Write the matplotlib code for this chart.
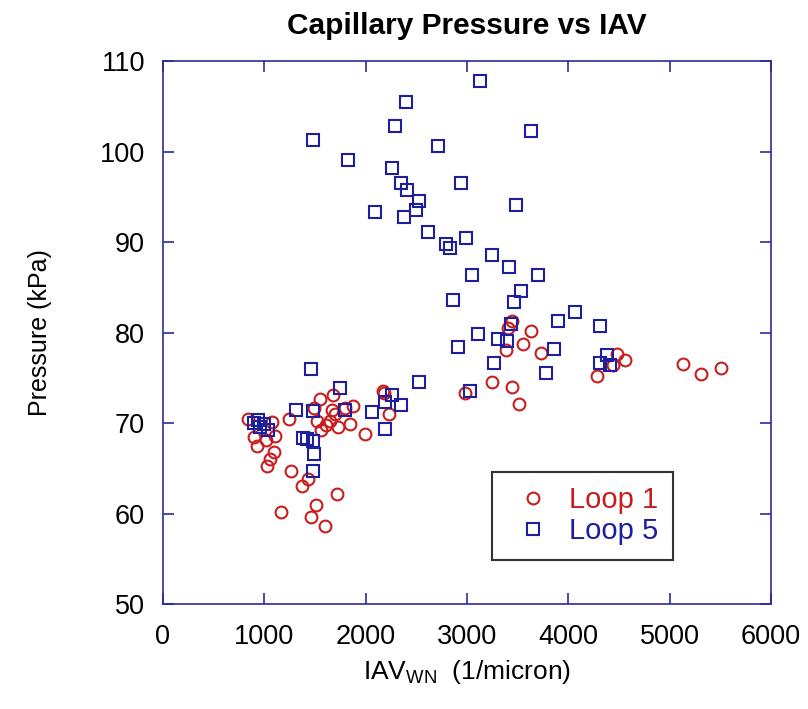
import matplotlib
matplotlib.use("Agg")
import matplotlib.pyplot as plt

plt.rcParams["font.family"] = ["Liberation Sans", "DejaVu Sans"]

# Loop 1 (red circles)
loop1_iav = [839, 898, 928, 1020, 1080, 1102, 1092, 1060, 1023, 1244, 1260,
             1435, 1375, 1165, 1514, 1461, 1596, 1714, 1490, 1520, 1546, 1563,
             1612, 1650, 1671, 1678, 1701, 1727, 1793, 1842, 1879, 1994, 2171,
             2181, 2227, 2980, 3247, 3448, 3513, 3382, 3405, 3444, 3629, 3557,
             3727, 4283, 4441, 4481, 4557, 5132, 5313, 5510]
loop1_p = [70.5, 68.5, 67.5, 68.2, 70.1, 68.6, 66.8, 66.1, 65.3, 70.5, 64.7,
           63.8, 63.1, 60.2, 61.0, 59.7, 58.6, 62.2, 71.7, 70.3, 72.7, 69.3,
           69.8, 70.2, 71.5, 73.1, 71.0, 69.6, 71.7, 69.9, 71.9, 68.8, 73.6,
           73.4, 71.0, 73.3, 74.6, 74.0, 72.1, 78.1, 80.5, 81.3, 80.2, 78.8,
           77.8, 75.2, 76.4, 77.7, 77.0, 76.5, 75.4, 76.1]

# Loop 5 (blue squares)
loop5_iav = [895, 938, 954, 994, 1036, 1310, 1382, 1421, 1480, 1494, 1477,
             1461, 1477, 1744, 1800, 2063, 2195, 2264, 2349, 2195, 2527, 3027,
             2915, 3112, 3267, 3306, 3399, 3438, 3777, 3859, 3898, 4063, 4313,
             4317, 4386, 4415, 2859, 3464, 3530, 3047, 3698, 3412, 3244, 2797,
             2829, 2987, 2612, 2096, 2379, 2494, 2527, 2408, 2349, 2945, 3481,
             2264, 1830, 2711, 1477, 2293, 3629, 2395, 3128]
loop5_p = [70.0, 70.4, 69.6, 69.9, 69.3, 71.5, 68.4, 68.3, 68.0, 66.6, 64.7,
           76.0, 71.4, 73.9, 71.5, 71.3, 72.3, 73.1, 72.0, 69.4, 74.6, 73.6,
           78.4, 79.9, 76.7, 79.3, 79.1, 81.0, 75.6, 78.2, 81.3, 82.3, 80.8,
           76.7, 77.5, 76.4, 83.6, 83.4, 84.6, 86.4, 86.4, 87.3, 88.6, 89.8,
           89.4, 90.5, 91.1, 93.3, 92.8, 93.6, 94.6, 95.8, 96.5, 96.5, 94.1,
           98.2, 99.1, 100.6, 101.3, 102.8, 102.3, 105.5, 107.8]

x_ticks = [0, 1000, 2000, 3000, 4000, 5000, 6000]
y_ticks = [50, 60, 70, 80, 90, 100, 110]

red = "#c81e1e"
blue = "#1e1ea0"
axis_col = "#2b2b9c"

fig = plt.figure(figsize=(8.08, 7.09), dpi=100)
ax = fig.add_axes([0.2017, 0.1477, 0.7523, 0.7658])

ax.plot(loop1_iav, loop1_p, "o", ls="none", ms=8.5, mfc="none", mec=red,
        mew=1.5, label="Loop 1")
ax.plot(loop5_iav, loop5_p, "s", ls="none", ms=8.5, mfc="none", mec=blue,
        mew=1.5, label="Loop 5")

ax.set_xlim(0, 6000)
ax.set_ylim(50, 110)
ax.set_xticks(x_ticks)
ax.set_yticks(y_ticks)
ax.tick_params(direction="in", top=True, right=True, length=8, width=1.2,
               color=axis_col, labelsize=19.5)
ax.tick_params(axis="x", pad=14)
ax.tick_params(axis="y", pad=13)
for sp in ax.spines.values():
    sp.set_color(axis_col)
    sp.set_linewidth(1.2)

ax.set_title("Capillary Pressure vs IAV", fontsize=21.5, fontweight="bold",
             pad=20)
ax.set_xlabel(r"IAV$_{\mathregular{WN}}$  (1/micron)", fontsize=19, labelpad=6)
ax.set_ylabel("Pressure (kPa)", fontsize=18, labelpad=34)

leg = ax.legend(loc="lower left", bbox_to_anchor=(0.541, 0.0816),
                borderaxespad=0, fontsize=21, frameon=True, fancybox=False,
                handletextpad=0.35, borderpad=0.5, labelspacing=0.1,
                handlelength=1.8, markerscale=1.0)
leg.get_frame().set_edgecolor("black")
leg.get_frame().set_linewidth(1.5)
for txt, col in zip(leg.get_texts(), [red, blue]):
    txt.set_color(col)

fig.savefig("out.png", dpi=100)
